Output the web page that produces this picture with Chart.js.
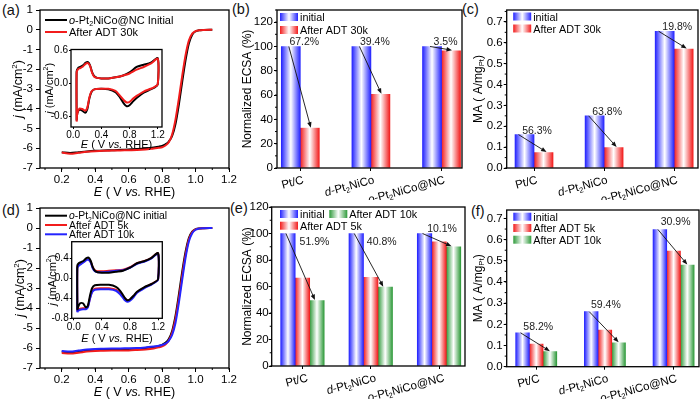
<!DOCTYPE html>
<html>
<head>
<meta charset="utf-8">
<script src="https://cdn.jsdelivr.net/npm/chart.js@4.4.0/dist/chart.umd.min.js"></script>
<style>
  body { margin: 0; width: 700px; height: 399px; background: #fff; position: relative; overflow: hidden; font-family: "Liberation Sans", Arial, sans-serif; }
  canvas { position: absolute; }
  .tag { position: absolute; font-size: 14.5px; color: #111; line-height: 1; }
</style>
</head>
<body>
<div class="tag" style="left:2px;top:3px">(a)</div>
<div class="tag" style="left:232px;top:2px">(b)</div>
<div class="tag" style="left:462px;top:2px">(c)</div>
<div class="tag" style="left:2px;top:203px">(d)</div>
<div class="tag" style="left:230px;top:201px">(e)</div>
<div class="tag" style="left:471px;top:204px">(f)</div>

<canvas id="pa" width="240" height="200" style="left:0;top:0"></canvas>
<canvas id="pa_in" width="128" height="106" style="left:40px;top:44px"></canvas>
<canvas id="pb" width="232" height="200" style="left:232px;top:0"></canvas>
<canvas id="pc" width="236" height="200" style="left:464px;top:0"></canvas>
<canvas id="pd" width="240" height="199" style="left:0;top:200px"></canvas>
<canvas id="pd_in" width="128" height="112" style="left:40px;top:236px"></canvas>
<canvas id="pe" width="236" height="199" style="left:230px;top:200px"></canvas>
<canvas id="pf" width="236" height="199" style="left:464px;top:200px"></canvas>

<script>
// ---- data ----
const lsvE = [0.2, 0.25, 0.3, 0.35, 0.4, 0.45, 0.5, 0.55, 0.6, 0.65, 0.7, 0.75, 0.78, 0.8, 0.82, 0.84, 0.86, 0.88, 0.9, 0.92, 0.94, 0.96, 0.98, 1.0, 1.02, 1.05, 1.1];
const lsvA_init = [-6.20, -6.24, -6.20, -6.16, -6.13, -6.11, -6.10, -6.08, -6.06, -6.04, -6.01, -5.96, -5.92, -5.88, -5.80, -5.66, -5.38, -4.78, -3.80, -2.65, -1.55, -0.70, -0.25, -0.08, -0.03, -0.01, 0];
const lsvA_30k = [-6.22, -6.28, -6.23, -6.18, -6.15, -6.13, -6.12, -6.11, -6.10, -6.09, -6.06, -6.01, -5.98, -5.95, -5.86, -5.70, -5.30, -4.55, -3.50, -2.35, -1.30, -0.55, -0.20, -0.07, -0.03, -0.01, 0];
const lsvD_init = [-6.18, -6.22, -6.18, -6.12, -6.09, -6.08, -6.07, -6.06, -6.05, -6.03, -6.00, -5.95, -5.90, -5.84, -5.74, -5.55, -5.15, -4.40, -3.35, -2.20, -1.20, -0.50, -0.18, -0.06, -0.02, -0.01, 0];
const lsvD_5k = [-6.25, -6.28, -6.24, -6.18, -6.15, -6.14, -6.13, -6.12, -6.12, -6.10, -6.07, -6.02, -5.97, -5.92, -5.82, -5.62, -5.25, -4.55, -3.55, -2.40, -1.35, -0.58, -0.21, -0.07, -0.03, -0.01, 0];
const lsvD_10k = [-6.15, -6.18, -6.13, -6.08, -6.05, -6.04, -6.03, -6.02, -6.01, -6.00, -5.97, -5.93, -5.89, -5.85, -5.78, -5.64, -5.35, -4.75, -3.75, -2.60, -1.50, -0.68, -0.26, -0.09, -0.03, -0.01, 0];

// CV loop: anodic sweep then cathodic sweep
const cvE = [0.05, 0.05, 0.07, 0.1, 0.14, 0.18, 0.21, 0.24, 0.27, 0.3, 0.34, 0.4, 0.5, 0.6, 0.7, 0.8, 0.9, 1.0, 1.1, 1.2,
             1.2, 1.15, 1.1, 1.0, 0.9, 0.85, 0.8, 0.76, 0.72, 0.66, 0.6, 0.5, 0.4, 0.3, 0.26, 0.23, 0.2, 0.17, 0.13, 0.09, 0.06, 0.05];
const cvA_init = [-0.68, 0.22, 0.28, 0.30, 0.33, 0.38, 0.39, 0.33, 0.20, 0.13, 0.10, 0.09, 0.09, 0.11, 0.14, 0.20, 0.30, 0.34, 0.38, 0.46,
                  -0.02, -0.08, -0.11, -0.17, -0.27, -0.33, -0.40, -0.42, -0.37, -0.25, -0.16, -0.11, -0.10, -0.11, -0.16, -0.28, -0.48, -0.54, -0.50, -0.48, -0.55, -0.68];
const cvA_30k = [-0.70, 0.20, 0.26, 0.28, 0.31, 0.36, 0.37, 0.32, 0.19, 0.12, 0.10, 0.09, 0.09, 0.11, 0.14, 0.18, 0.25, 0.30, 0.36, 0.45,
                 -0.02, -0.07, -0.10, -0.15, -0.23, -0.28, -0.34, -0.35, -0.31, -0.22, -0.14, -0.10, -0.10, -0.11, -0.15, -0.26, -0.45, -0.50, -0.47, -0.46, -0.55, -0.70];
const cvD_init = [-0.62, 0.25, 0.30, 0.32, 0.35, 0.40, 0.41, 0.35, 0.22, 0.15, 0.12, 0.11, 0.11, 0.13, 0.15, 0.21, 0.30, 0.34, 0.40, 0.50,
                  -0.02, -0.08, -0.12, -0.18, -0.27, -0.35, -0.42, -0.44, -0.38, -0.25, -0.17, -0.13, -0.13, -0.14, -0.20, -0.35, -0.55, -0.58, -0.50, -0.50, -0.58, -0.64];
const cvD_5k = [-0.66, 0.22, 0.27, 0.29, 0.33, 0.37, 0.38, 0.33, 0.22, 0.16, 0.14, 0.14, 0.15, 0.16, 0.17, 0.22, 0.30, 0.34, 0.40, 0.50,
                -0.02, -0.08, -0.12, -0.19, -0.28, -0.36, -0.43, -0.44, -0.40, -0.30, -0.23, -0.20, -0.20, -0.21, -0.27, -0.40, -0.57, -0.60, -0.60, -0.61, -0.63, -0.66];
const cvD_10k = [-0.68, 0.20, 0.25, 0.28, 0.32, 0.36, 0.37, 0.32, 0.20, 0.14, 0.12, 0.12, 0.13, 0.15, 0.16, 0.21, 0.29, 0.33, 0.39, 0.49,
                 -0.03, -0.09, -0.13, -0.20, -0.29, -0.38, -0.45, -0.47, -0.43, -0.32, -0.25, -0.22, -0.22, -0.23, -0.28, -0.41, -0.58, -0.62, -0.62, -0.63, -0.65, -0.68];

const ecsaInit30 = [100, 100, 100];
const ecsaAdt30 = [32.8, 60.6, 96.5];
const ecsaLoss30 = ['67.2%', '39.4%', '3.5%'];
const maInit30 = [0.16, 0.25, 0.655];
const maAdt30 = [0.074, 0.098, 0.57];
const maLoss30 = ['56.3%', '63.8%', '19.8%'];
const ecsaInit10 = [100, 100, 100];
const ecsaAdt5 = [66.3, 67.0, 93.8];
const ecsaAdt10 = [49.4, 59.5, 90.0];
const ecsaLoss10 = ['51.9%', '40.8%', '10.1%'];
const maInit10 = [0.16, 0.26, 0.648];
const maAdt5 = [0.107, 0.173, 0.546];
const maAdt10 = [0.071, 0.113, 0.48];
const maLoss10 = ['58.2%', '59.4%', '30.9%'];

// rich text runs: [text, style] where style is 'i', 'sub' or 'sup'
const catalysts = [
  [['Pt/C']],
  [['d', 'i'], ['-Pt'], ['2', 'sub'], ['NiCo']],
  [['o', 'i'], ['-Pt'], ['2', 'sub'], ['NiCo@NC']]
];
const lsvXTicks = [0.2, 0.4, 0.6, 0.8, 1.0, 1.2];
const lsvYTicks = [1, 0, -1, -2, -3, -4, -5, -6, -7];
const cvXTicks = [0, 0.4, 0.8, 1.2];
const cvYTicksA = [-0.6, 0, 0.6];
const cvYTicksD = [-0.8, -0.4, 0, 0.4];
const ecsaTicks = [0, 20, 40, 60, 80, 100, 120];
const maTicks = [0, 0.1, 0.2, 0.3, 0.4, 0.5, 0.6, 0.7];

const E_TITLE = [['E', 'i'], [' ( V '], ['vs.', 'i'], [' RHE)']];
const J_TITLE = [['j', 'i'], [' (mA/cm'], ['2', 'sup'], [')']];
const ECSA_TITLE = [['Normalized ECSA (%)']];
const MA_TITLE = [['MA ( A/mg'], ['Pt', 'sub'], [')']];

const BLUE = '#2424ff', RED = '#f21c1c', GREEN = '#2e9a3a';
const FONT = '"Liberation Sans", Arial, sans-serif';
Chart.defaults.font.family = FONT;
Chart.defaults.color = '#000';

// ---- text helpers ----
function setFont(ctx, size, italic) {
  ctx.font = (italic ? 'italic ' : '') + size + 'px ' + FONT;
}
function runsWidth(ctx, runs, size) {
  let w = 0;
  for (const [t, s] of runs) {
    setFont(ctx, s === 'sub' || s === 'sup' ? size * 0.65 : size, s === 'i');
    w += ctx.measureText(t).width;
  }
  return w;
}
function drawRuns(ctx, runs, x, y, size, align) {
  const w = runsWidth(ctx, runs, size);
  let cx = align === 'center' ? x - w / 2 : align === 'right' ? x - w : x;
  ctx.textAlign = 'left';
  ctx.textBaseline = 'alphabetic';
  for (const [t, s] of runs) {
    const small = s === 'sub' || s === 'sup';
    setFont(ctx, small ? size * 0.65 : size, s === 'i');
    const dy = s === 'sub' ? size * 0.2 : s === 'sup' ? -size * 0.4 : 0;
    ctx.fillText(t, cx, y + dy);
    cx += ctx.measureText(t).width;
  }
}
function shade(ctx, c, x, w) {
  const g = ctx.createLinearGradient(x, 0, x + w, 0);
  g.addColorStop(0, c);
  g.addColorStop(0.5, '#ffffff');
  g.addColorStop(1, c);
  return g;
}
function arrow(ctx, x1, y1, x2, y2) {
  const a = Math.atan2(y2 - y1, x2 - x1), L = 5.5, W = 2.2;
  const c = Math.cos(a), s = Math.sin(a);
  ctx.beginPath();
  ctx.moveTo(x1, y1);
  ctx.lineTo(x2 - L * 0.8 * c, y2 - L * 0.8 * s);
  ctx.stroke();
  ctx.beginPath();
  ctx.moveTo(x2, y2);
  ctx.lineTo(x2 - L * c + W * s, y2 - L * s - W * c);
  ctx.lineTo(x2 - L * c - W * s, y2 - L * s + W * c);
  ctx.closePath();
  ctx.fill();
}

// per-canvas decoration settings (titles, legends, drop labels)
const DECO = {};
const SHADES = {};
const MINOR = {};

const framePlugin = {
  id: 'frame',
  afterDraw(chart) {
    const { ctx, chartArea: a } = chart;
    ctx.save();
    ctx.strokeStyle = '#000';
    ctx.lineWidth = 1.3;
    ctx.strokeRect(a.left, a.top, a.right - a.left, a.bottom - a.top);
    const m = MINOR[chart.canvas.id] || {};
    ctx.lineWidth = 1;
    for (const id of ['x', 'y']) {
      if (!m[id]) continue;
      const sc = chart.scales[id];
      ctx.beginPath();
      for (let k = Math.ceil(sc.min / m[id] - 1e-6); k * m[id] <= sc.max + 1e-9; k++) {
        const p = sc.getPixelForValue(k * m[id]);
        if (id === 'x') { ctx.moveTo(p, a.bottom); ctx.lineTo(p, a.bottom + 2); }
        else { ctx.moveTo(a.left, p); ctx.lineTo(a.left - 2, p); }
      }
      ctx.stroke();
    }
    ctx.restore();
  }
};

const shadePlugin = {
  id: 'shade',
  beforeDatasetDraw(chart, args) {
    const cols = SHADES[chart.canvas.id];
    if (!cols) return;
    const c = cols[args.index];
    args.meta.data.forEach(el => {
      const { x, width } = el.getProps(['x', 'width'], true);
      el.options = Object.assign({}, el.options, { backgroundColor: shade(chart.ctx, c, x - width / 2, width) });
    });
  }
};

const decoPlugin = {
  id: 'deco',
  afterDraw(chart) {
    const d = DECO[chart.canvas.id];
    if (!d) return;
    const { ctx, chartArea: a } = chart;
    ctx.save();
    ctx.fillStyle = '#000';
    ctx.strokeStyle = '#000';
    if (d.xTitle) {
      drawRuns(ctx, d.xTitle.runs, (a.left + a.right) / 2, a.bottom + d.xTitle.dy, d.xTitle.size, 'center');
    }
    if (d.yTitle) {
      ctx.save();
      ctx.translate(a.left + d.yTitle.dx, (a.top + a.bottom) / 2);
      ctx.rotate(-Math.PI / 2);
      drawRuns(ctx, d.yTitle.runs, 0, d.yTitle.size * 0.35, d.yTitle.size, 'center');
      ctx.restore();
    }
    if (d.cats) {
      const sx = chart.scales.x;
      catalysts.forEach((runs, i) => {
        ctx.save();
        ctx.translate(sx.getPixelForValue(i) + d.cats.dx, a.bottom + d.cats.dy);
        ctx.rotate(-d.cats.rot * Math.PI / 180);
        drawRuns(ctx, runs, 0, 0, d.cats.size, 'right');
        ctx.restore();
      });
    }
    if (d.legend) {
      const L = d.legend;
      L.items.forEach(it => {
        const x = a.left + it.dx, y = a.top + it.dy;
        if (L.kind === 'line') {
          ctx.lineWidth = 2;
          ctx.strokeStyle = it.color;
          ctx.beginPath();
          ctx.moveTo(x, y);
          ctx.lineTo(x + L.len, y);
          ctx.stroke();
          ctx.fillStyle = '#000';
          drawRuns(ctx, it.runs, x + L.len + 2, y + L.size * 0.36, L.size, 'left');
        } else {
          ctx.fillStyle = shade(ctx, it.color, x, L.w);
          ctx.fillRect(x, y, L.w, L.h);
          ctx.fillStyle = '#000';
          drawRuns(ctx, it.runs, x + L.w + 2, y + L.h, L.size, 'left');
        }
      });
    }
    if (d.drops) {
      const D = d.drops;
      const sx = chart.scales.x;
      const first = chart.getDatasetMeta(0).data;
      const last = chart.getDatasetMeta(chart.data.datasets.length - 1).data;
      ctx.lineWidth = 0.9;
      ctx.strokeStyle = '#111';
      D.texts.forEach((t, i) => {
        const b0 = first[i], b1 = last[i];
        ctx.fillStyle = '#111';
        arrow(ctx, b0.x + D.sdx, b0.y, b1.x + D.edx, b1.y - 0.5);
        ctx.fillStyle = '#222';
        setFont(ctx, D.size, false);
        ctx.textAlign = 'center';
        ctx.textBaseline = 'alphabetic';
        ctx.fillText(t, sx.getPixelForValue(i) + D.lab[i][0], b0.y + D.lab[i][1]);
      });
    }
    ctx.restore();
  }
};

function axis(o) {
  return {
    type: 'linear',
    min: o.min,
    max: o.max,
    offset: false,
    grid: { drawOnChartArea: false, offset: false, color: '#000', lineWidth: 1, tickLength: o.tl },
    border: { display: false },
    ticks: {
      display: o.show !== false,
      color: '#000',
      font: { size: o.fs || 11.5 },
      padding: o.pad,
      maxRotation: 0,
      callback: o.fmt
    },
    afterBuildTicks: s => { s.ticks = o.ticks.map(v => ({ value: v })); },
    afterFit: s => {
      if (o.w != null) s.width = o.w;
      if (o.h != null) s.height = o.h;
      s.paddingLeft = s.paddingRight = s.paddingTop = s.paddingBottom = 0;
    }
  };
}

const fix1 = v => v.toFixed(1);
const int = v => String(v);

function pts(xs, ys) {
  return ys.map((y, i) => ({ x: xs[i], y: y }));
}

function lineChart(id, sets, pad, xo, yo, tension, lw) {
  return new Chart(document.getElementById(id), {
    type: 'line',
    data: {
      datasets: sets.map(s => ({
        data: pts(s.x, s.y), borderColor: s.color, borderWidth: lw, order: s.order,
        pointRadius: 0, tension: tension, cubicInterpolationMode: s.mono ? 'monotone' : 'default', fill: false
      }))
    },
    options: {
      responsive: false, animation: false, devicePixelRatio: 1, events: [],
      layout: { padding: pad },
      plugins: { legend: { display: false }, tooltip: { enabled: false } },
      scales: { x: axis(xo), y: axis(yo) }
    },
    plugins: [framePlugin, decoPlugin]
  });
}

function barChart(id, sets, thick, pad, xo, yo) {
  SHADES[id] = sets.map(s => s.color);
  return new Chart(document.getElementById(id), {
    type: 'bar',
    data: {
      datasets: sets.map(s => ({
        data: s.vals.map((v, i) => ({ x: i, y: v })), backgroundColor: s.color,
        borderWidth: 0, barThickness: thick
      }))
    },
    options: {
      responsive: false, animation: false, devicePixelRatio: 1, events: [],
      layout: { padding: pad },
      plugins: { legend: { display: false }, tooltip: { enabled: false } },
      scales: { x: axis(xo), y: axis(yo) }
    },
    plugins: [shadePlugin, framePlugin, decoPlugin]
  });
}

const legInit = [['o', 'i'], ['-Pt'], ['2', 'sub'], ['NiCo@NC Initial']];
const legInit2 = [['o', 'i'], ['-Pt'], ['2', 'sub'], ['NiCo@NC initial']];

// ---- (a) ----
DECO.pa = {
  xTitle: { runs: E_TITLE, dy: 28, size: 12.5 },
  yTitle: { runs: J_TITLE, dx: -22, size: 12.5 },
  legend: { kind: 'line', len: 22, size: 11, items: [
    { runs: legInit, color: '#000', dx: 5, dy: 10 },
    { runs: [['After ADT 30k']], color: RED, dx: 5, dy: 22 }
  ] }
};
MINOR.pa = { x: 0.1 };
lineChart('pa', [
  { x: lsvE, y: lsvA_init, color: '#000', order: 2, mono: true },
  { x: lsvE, y: lsvA_30k, color: RED, order: 1, mono: true }
], { left: 0, top: 10, right: 11, bottom: 0 },
  { min: 0.07, max: 1.2, ticks: lsvXTicks, fmt: fix1, tl: 4, pad: 1, h: 32 },
  { min: -7, max: 1, ticks: lsvYTicks, fmt: int, tl: 4, pad: 3, w: 40 }, 0, 2);

DECO.pa_in = {
  xTitle: { runs: E_TITLE, dy: 21, size: 11 },
  yTitle: { runs: J_TITLE, dx: -22, size: 11 }
};
lineChart('pa_in', [
  { x: cvE, y: cvA_init, color: '#000', order: 2 },
  { x: cvE, y: cvA_30k, color: RED, order: 1 }
], { left: 0, top: 5.5, right: 6, bottom: 0 },
  { min: -0.03, max: 1.26, ticks: cvXTicks, fmt: fix1, tl: 2, pad: 0, fs: 10, h: 23 },
  { min: -0.8, max: 0.62, ticks: cvYTicksA, fmt: fix1, tl: 2, pad: 1, fs: 10, w: 31 }, 0.25, 2);

// ---- (d) ----
DECO.pd = {
  xTitle: { runs: E_TITLE, dy: 28, size: 12.5 },
  yTitle: { runs: J_TITLE, dx: -20, size: 12.5 },
  legend: { kind: 'line', len: 22, size: 10.4, items: [
    { runs: legInit2, color: '#000', dx: 5, dy: 7.7 },
    { runs: [['After ADT 5k']], color: RED, dx: 5, dy: 17 },
    { runs: [['After ADT 10k']], color: BLUE, dx: 5, dy: 26.3 }
  ] }
};
MINOR.pd = { x: 0.1 };
lineChart('pd', [
  { x: lsvE, y: lsvD_init, color: '#000', order: 3, mono: true },
  { x: lsvE, y: lsvD_5k, color: RED, order: 2, mono: true },
  { x: lsvE, y: lsvD_10k, color: BLUE, order: 1, mono: true }
], { left: 0, top: 8, right: 11, bottom: 0 },
  { min: 0.07, max: 1.2, ticks: lsvXTicks, fmt: fix1, tl: 4, pad: 1, h: 31 },
  { min: -7, max: 1, ticks: lsvYTicks, fmt: int, tl: 4, pad: 3, w: 40 }, 0, 2);

DECO.pd_in = {
  xTitle: { runs: E_TITLE, dy: 24, size: 11 },
  yTitle: { runs: J_TITLE, dx: -20, size: 11 }
};
lineChart('pd_in', [
  { x: cvE, y: cvD_init, color: '#000', order: 1 },
  { x: cvE, y: cvD_5k, color: RED, order: 3 },
  { x: cvE, y: cvD_10k, color: BLUE, order: 2 }
], { left: 0, top: 5.7, right: 5.7, bottom: 0 },
  { min: -0.03, max: 1.26, ticks: cvXTicks, fmt: fix1, tl: 2, pad: 1, fs: 10, h: 29.7 },
  { min: -0.8, max: 0.73, ticks: cvYTicksD, fmt: fix1, tl: 2, pad: 1, fs: 10, w: 31.7 }, 0.25, 2);

// ---- (b) ----
DECO.pb = {
  yTitle: { runs: ECSA_TITLE, dx: -30, size: 12 },
  cats: { dx: 4, dy: 15, rot: 15, size: 11.5 },
  legend: { kind: 'bar', w: 18, h: 8, size: 10.8, items: [
    { runs: [['initial']], color: BLUE, dx: 3, dy: 3 },
    { runs: [['After ADT 30k']], color: RED, dx: 3, dy: 16 }
  ] },
  drops: { texts: ecsaLoss30, size: 10.5, sdx: -2, edx: 1, lab: [[4, -1], [4, -1], [4, -1]] }
};
MINOR.pb = { y: 10 };
barChart('pb', [
  { vals: ecsaInit30, color: BLUE },
  { vals: ecsaAdt30, color: RED }
], 19, { left: 0, top: 10, right: 2, bottom: 0 },
  { min: -0.33, max: 2.29, ticks: [0, 1, 2], show: false, tl: 3, h: 32 },
  { min: 0, max: 130, ticks: ecsaTicks, fmt: int, tl: 3, pad: 1, w: 45 });

// ---- (c) ----
DECO.pc = {
  yTitle: { runs: MA_TITLE, dx: -29, size: 12 },
  cats: { dx: 4, dy: 15, rot: 15, size: 11.5 },
  legend: { kind: 'bar', w: 18, h: 8, size: 10.8, items: [
    { runs: [['initial']], color: BLUE, dx: 6.5, dy: 2.5 },
    { runs: [['After ADT 30k']], color: RED, dx: 6.5, dy: 14.5 }
  ] },
  drops: { texts: maLoss30, size: 10.5, sdx: -6, edx: 3, lab: [[3, -1], [3, -1], [3, -1]] }
};
MINOR.pc = { y: 0.05 };
barChart('pc', [
  { vals: maInit30, color: BLUE },
  { vals: maAdt30, color: RED }
], 19, { left: 0, top: 10, right: 2, bottom: 0 },
  { min: -0.39, max: 2.34, ticks: [0, 1, 2], show: false, tl: 3, h: 32 },
  { min: 0, max: 0.757, ticks: maTicks, fmt: fix1, tl: 3, pad: 1, w: 42.7 });

// ---- (e) ----
DECO.pe = {
  yTitle: { runs: ECSA_TITLE, dx: -25, size: 12 },
  cats: { dx: 6, dy: 15, rot: 15, size: 11.5 },
  legend: { kind: 'bar', w: 18, h: 8, size: 10.8, items: [
    { runs: [['initial']], color: BLUE, dx: 8.3, dy: 3 },
    { runs: [['After ADT 10k']], color: GREEN, dx: 57.6, dy: 3 },
    { runs: [['After ADT 5k']], color: RED, dx: 8.3, dy: 14.7 }
  ] },
  drops: { texts: ecsaLoss10, size: 10.5, sdx: -2, edx: -2, lab: [[12, 11], [11, 11], [3, -2]] }
};
MINOR.pe = { y: 10 };
barChart('pe', [
  { vals: ecsaInit10, color: BLUE },
  { vals: ecsaAdt5, color: RED },
  { vals: ecsaAdt10, color: GREEN }
], 14.5, { left: 0, top: 7, right: 1, bottom: 0 },
  { min: -0.45, max: 2.38, ticks: [0, 1, 2], show: false, tl: 3, h: 33 },
  { min: 0, max: 120, ticks: ecsaTicks, fmt: int, tl: 3, pad: 0, w: 41.7 });

// ---- (f) ----
DECO.pf = {
  yTitle: { runs: MA_TITLE, dx: -29, size: 12 },
  cats: { dx: 4, dy: 15, rot: 15, size: 11.5 },
  legend: { kind: 'bar', w: 18, h: 8, size: 10.8, items: [
    { runs: [['initial']], color: BLUE, dx: 6.6, dy: 2.7 },
    { runs: [['After ADT 5k']], color: RED, dx: 6.6, dy: 14 },
    { runs: [['After ADT 10k']], color: GREEN, dx: 6.6, dy: 25.7 }
  ] },
  drops: { texts: maLoss10, size: 10.5, sdx: -2, edx: 0, lab: [[2, -3], [1, -4], [2, -4]] }
};
MINOR.pf = { y: 0.05 };
barChart('pf', [
  { vals: maInit10, color: BLUE },
  { vals: maAdt5, color: RED },
  { vals: maAdt10, color: GREEN }
], 13.7, { left: 0, top: 10, right: 1, bottom: 0 },
  { min: -0.43, max: 2.37, ticks: [0, 1, 2], show: false, tl: 3, h: 32.3 },
  { min: 0, max: 0.74, ticks: maTicks, fmt: fix1, tl: 3, pad: 1, w: 42.7 });
</script>
</body>
</html>
